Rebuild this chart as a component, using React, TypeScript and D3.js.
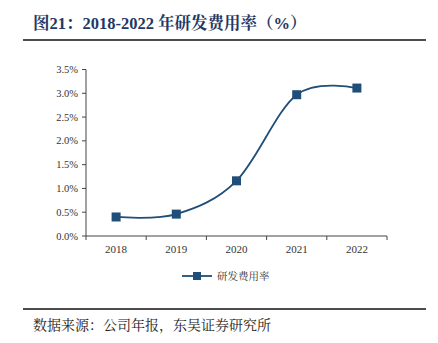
import React from "react";
import * as d3 from "d3";

const years = ["2018", "2019", "2020", "2021", "2022"];
const rdRate = [0.40, 0.46, 1.16, 2.97, 3.11];
const yTicks = [0, 0.5, 1.0, 1.5, 2.0, 2.5, 3.0, 3.5];
const seriesName = "研发费用率";
const titleText = "图21：2018-2022 年研发费用率（%）";
const sourceText = "数据来源：公司年报，东吴证券研究所";

const W = 438;
const H = 343;
const left = 86;
const right = 387;
const top = 69.5;
const bottom = 236;
const lineColor = "#1F4E79";

export default function App() {
  const x = d3.scaleBand<string>().domain(years).range([left, right]);
  const y = d3.scaleLinear().domain([0, 3.5]).range([bottom, top]);
  const pts: [number, number][] = years.map((yr, i) => [
    (x(yr) as number) + x.bandwidth() / 2,
    y(rdRate[i]),
  ]);
  const line = d3.line().curve(d3.curveCardinal.tension(0))(pts) || "";
  const serif = "'Liberation Serif', 'Noto Serif CJK SC', 'Noto Sans CJK SC', serif";
  const cjk = "'Noto Serif CJK SC', 'Noto Sans CJK SC', serif";
  const num = "'Liberation Serif', serif";

  return (
    <div style={{ position: "fixed", left: 0, top: 0, width: W, height: H, background: "#fff" }}>
      <svg width={W} height={H} style={{ display: "block" }}>
        <text x={33} y={29} fontSize={16.5} fontWeight="bold" fill="#1F3864" fontFamily={serif}>
          {titleText}
        </text>
        <line x1={23} x2={426} y1={40} y2={40} stroke="#111" strokeWidth={1.5} />

        {/* y axis */}
        <line x1={left} x2={left} y1={top} y2={bottom} stroke="#444" strokeWidth={1} />
        {yTicks.map((t) => (
          <g key={t}>
            <line x1={left - 4} x2={left} y1={y(t)} y2={y(t)} stroke="#444" />
            <text x={left - 8} y={y(t) + 3.5} fontSize={10.5} textAnchor="end" fill="#333" fontFamily={num}>
              {t.toFixed(1)}%
            </text>
          </g>
        ))}

        {/* x axis */}
        <line x1={left} x2={right} y1={bottom} y2={bottom} stroke="#444" strokeWidth={1} />
        {[...years.map((yr) => x(yr) as number), right].map((px, i) => (
          <line key={i} x1={px} x2={px} y1={bottom} y2={bottom + 4} stroke="#444" />
        ))}
        {years.map((yr) => (
          <text key={yr} x={(x(yr) as number) + x.bandwidth() / 2} y={bottom + 17} fontSize={11} textAnchor="middle" fill="#333" fontFamily={num}>
            {yr}
          </text>
        ))}

        <path d={line} fill="none" stroke={lineColor} strokeWidth={1.8} />
        {pts.map(([px, py], i) => (
          <rect key={i} x={px - 4.5} y={py - 4.5} width={9} height={9} fill={lineColor} />
        ))}

        {/* legend */}
        <line x1={182} x2={212} y1={276} y2={276} stroke={lineColor} strokeWidth={1.8} />
        <rect x={193} y={272} width={8} height={8} fill={lineColor} />
        <text x={217} y={280} fontSize={10.5} fill="#333" fontFamily={cjk}>
          {seriesName}
        </text>

        <line x1={23} x2={426} y1={309} y2={309} stroke="#111" strokeWidth={1.5} />
        <text x={33} y={330} fontSize={14} fill="#222" fontFamily={cjk}>
          {sourceText}
        </text>
      </svg>
    </div>
  );
}
